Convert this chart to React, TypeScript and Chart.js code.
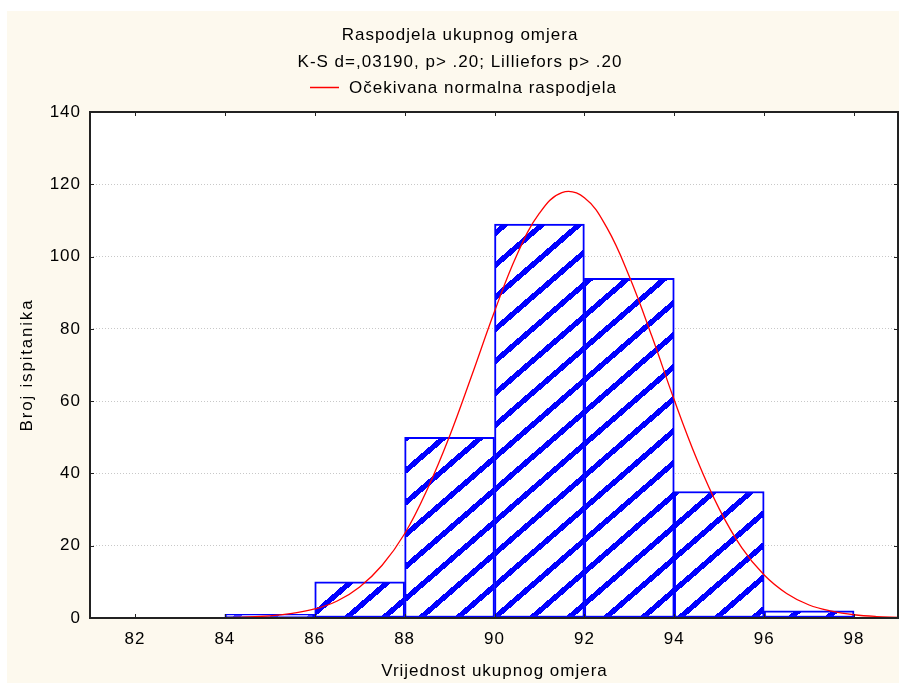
import React, { useEffect, useRef } from 'react';
import { Chart, registerables } from 'chart.js';
Chart.register(...registerables);

const titleText = 'Raspodjela ukupnog omjera';
const subtitleText = 'K-S d=,03190, p> .20; Lilliefors p> .20';
const legendText = 'Očekivana normalna raspodjela';
const xAxisTitle = 'Vrijednost ukupnog omjera';
const yAxisTitle = 'Broj ispitanika';

const binCenters = [85, 87, 89, 91, 93, 95, 97];
const binCounts = [1, 10, 50, 109, 94, 35, 2];

const curveX = [81, 82, 83, 84, 85, 85.5, 86, 86.5, 87, 87.5, 88, 88.5, 89, 89.5, 90, 90.5, 91, 91.5, 92, 92.5, 93, 93.5, 94, 94.5, 95, 95.5, 96, 96.5, 97, 97.5, 98, 98.5, 99];
const curveY = [0, 0, 0, 0.1, 0.6, 1.3, 2.5, 4.7, 8.6, 14.6, 23.3, 35.5, 50.3, 67.3, 84.8, 100.5, 112, 117.7, 116.3, 108, 94.5, 78, 60.3, 44, 30.2, 19.5, 11.9, 6.8, 3.6, 1.9, 0.9, 0.4, 0.2];

const xTicks = [82, 84, 86, 88, 90, 92, 94, 96, 98];
const yTicks = [0, 20, 40, 60, 80, 100, 120, 140];

const FONT = '17px "Liberation Sans", Arial, sans-serif';

function makePattern(ctx: CanvasRenderingContext2D) {
  const pw = 37;
  const ph = 32;
  const t = 0.22;
  const c = document.createElement('canvas');
  c.width = pw;
  c.height = ph;
  const g = c.getContext('2d')!;
  g.fillStyle = '#ffffff';
  g.fillRect(0, 0, pw, ph);
  g.fillStyle = '#0000ff';
  for (let y = 0; y < ph; y++) {
    for (let x = 0; x < pw; x++) {
      const v = (x / pw + y / ph) % 1;
      if (v < t) g.fillRect(x, y, 1, 1);
    }
  }
  return ctx.createPattern(c, 'repeat')!;
}

const decorPlugin = {
  id: 'decor',
  beforeDraw(chart: any) {
    const { ctx, chartArea: a, width, height } = chart;
    ctx.save();
    ctx.fillStyle = '#fdf9ee';
    ctx.fillRect(0, 0, width, height);
    ctx.fillStyle = '#ffffff';
    ctx.fillRect(a.left, a.top, a.right - a.left, a.bottom - a.top);
    ctx.restore();
  },
  afterDraw(chart: any) {
    const { ctx, chartArea: a } = chart;
    const xs = chart.scales.x;
    const ys = chart.scales.y;
    ctx.save();
    // box
    ctx.strokeStyle = '#222222';
    ctx.lineWidth = 2;
    ctx.strokeRect(a.left, a.top, a.right - a.left - 1, a.bottom - a.top);
    // inner tick marks
    ctx.lineWidth = 1;
    ctx.beginPath();
    xTicks.forEach((v) => {
      const px = Math.round(xs.getPixelForValue(v)) + 0.5;
      ctx.moveTo(px, a.bottom);
      ctx.lineTo(px, a.bottom - 4);
      ctx.moveTo(px, a.top);
      ctx.lineTo(px, a.top + 4);
    });
    yTicks.forEach((v) => {
      const py = Math.round(ys.getPixelForValue(v)) + 0.5;
      ctx.moveTo(a.left, py);
      ctx.lineTo(a.left + 4, py);
      ctx.moveTo(a.right - 1, py);
      ctx.lineTo(a.right - 5, py);
    });
    ctx.stroke();

    // texts
    ctx.fillStyle = '#000000';
    ctx.font = FONT;
    (ctx as any).letterSpacing = '1px';
    ctx.textBaseline = 'middle';

    ctx.textAlign = 'right';
    yTicks.forEach((v) => {
      ctx.fillText(String(v), a.left - 9, ys.getPixelForValue(v));
    });
    ctx.textAlign = 'center';
    xTicks.forEach((v) => {
      ctx.fillText(String(v), xs.getPixelForValue(v), a.bottom + 21);
    });

    ctx.fillText(titleText, 453, 24);
    ctx.fillText(subtitleText, 453, 51);
    ctx.fillText(xAxisTitle, (a.left + a.right) / 2, a.bottom + 53);

    ctx.save();
    ctx.translate(20, (a.top + a.bottom) / 2);
    ctx.rotate(-Math.PI / 2);
    (ctx as any).letterSpacing = '1.8px';
    ctx.fillText(yAxisTitle, 0, 0);
    ctx.restore();

    // legend
    ctx.strokeStyle = '#ff0000';
    ctx.lineWidth = 1.5;
    ctx.beginPath();
    ctx.moveTo(303, 76.5);
    ctx.lineTo(332, 76.5);
    ctx.stroke();
    ctx.textAlign = 'left';
    ctx.fillText(legendText, 342, 77);
    ctx.restore();
  },
};

export default function App() {
  const ref = useRef<HTMLCanvasElement>(null);
  useEffect(() => {
    const canvas = ref.current!;
    const ctx = canvas.getContext('2d')!;
    const pattern = makePattern(ctx);
    const chart = new Chart(canvas, {
      type: 'bar',
      data: {
        datasets: [
          {
            type: 'line',
            label: legendText,
            data: curveX.map((x, i) => ({ x, y: curveY[i] })),
            borderColor: '#ff0000',
            borderWidth: 1.3,
            pointRadius: 0,
            tension: 0.4,
            fill: false,
            order: 0,
          } as any,
          {
            type: 'bar',
            label: 'Histogram',
            data: binCenters.map((x, i) => ({ x, y: binCounts[i] })),
            backgroundColor: pattern,
            borderColor: '#0000ff',
            borderWidth: 2,
            borderSkipped: false,
            barPercentage: 1,
            categoryPercentage: 1,
            order: 1,
          } as any,
        ],
      },
      plugins: [decorPlugin],
      options: {
        responsive: false,
        animation: false,
        devicePixelRatio: 1,
        layout: { padding: { top: 101, left: 0, right: 0, bottom: 0 } },
        plugins: {
          legend: { display: false },
          title: { display: false },
          tooltip: { enabled: false },
        },
        scales: {
          x: {
            type: 'linear',
            min: 81,
            max: 99,
            offset: false,
            grid: { display: false, drawTicks: false },
            border: { display: false },
            ticks: { display: false },
            afterBuildTicks: (s: any) => {
              s.ticks = xTicks.map((v) => ({ value: v }));
            },
            afterFit: (s: any) => {
              s.height = 65;
            },
          },
          y: {
            min: 0,
            max: 140,
            ticks: { display: false, stepSize: 20 },
            grid: { color: '#c8c8c8', lineWidth: 1, drawTicks: false },
            border: { display: false, dash: [1, 2] },
            afterFit: (s: any) => {
              s.width = 83;
            },
          },
        },
      } as any,
    });
    return () => chart.destroy();
  }, []);
  return (
    <div style={{ position: 'absolute', left: 7, top: 11, width: 892, height: 672 }}>
      <canvas ref={ref} width={892} height={672} style={{ display: 'block', width: 892, height: 672 }} />
    </div>
  );
}
